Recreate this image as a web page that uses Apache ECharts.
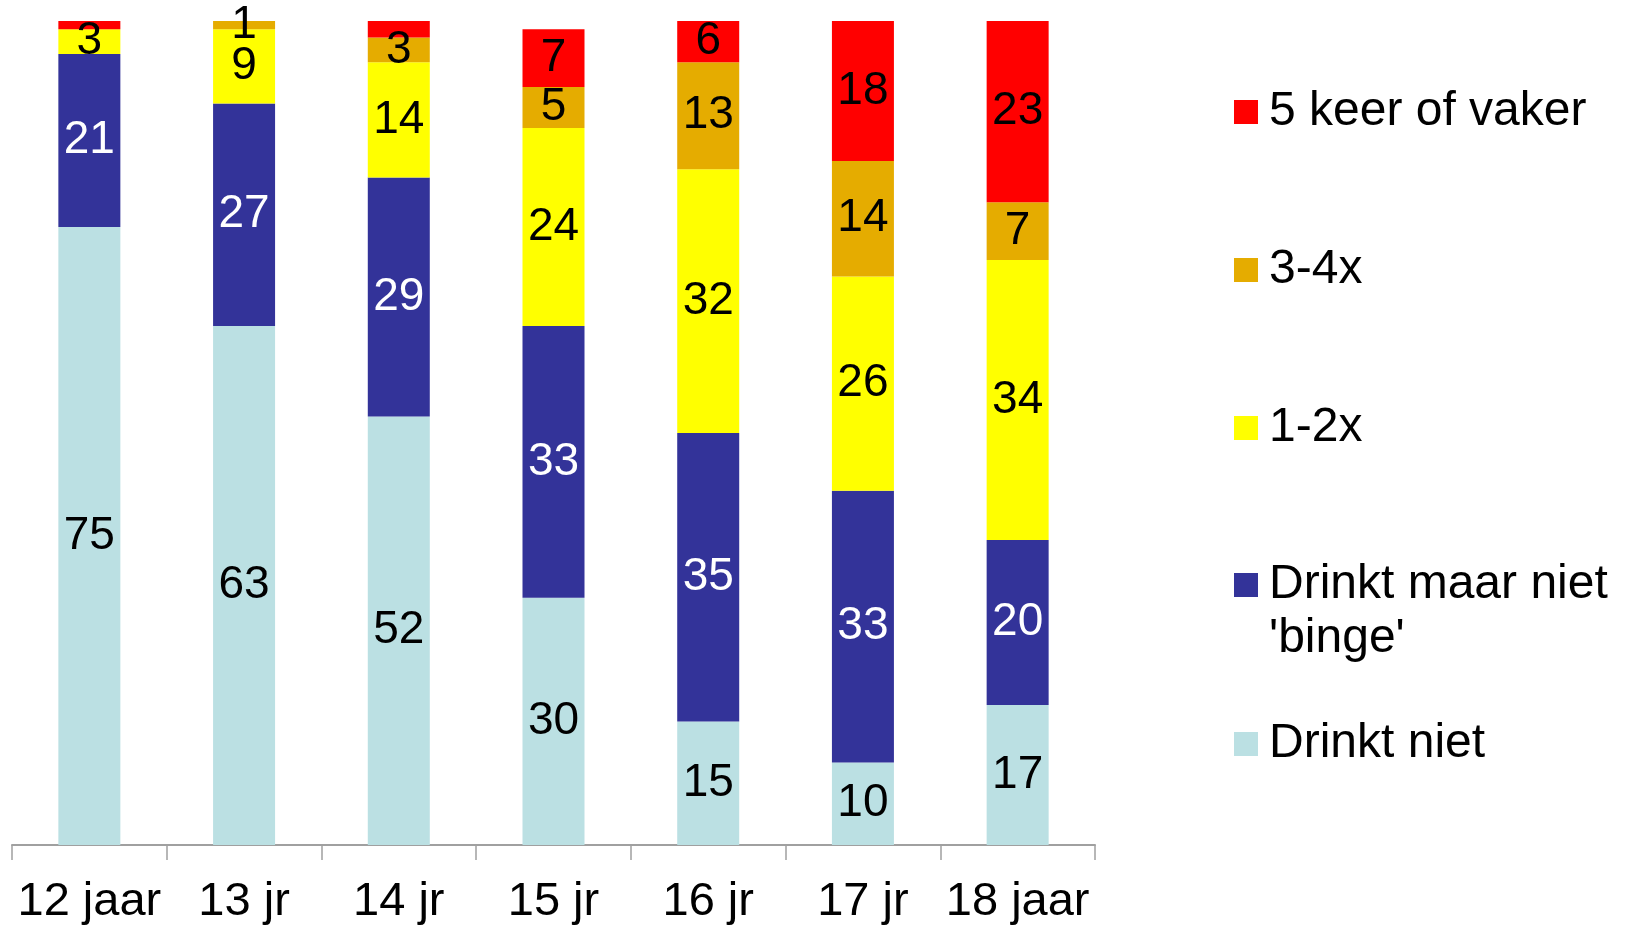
<!DOCTYPE html>
<html>
<head>
<meta charset="utf-8">
<script src="https://cdn.jsdelivr.net/npm/echarts@6/dist/echarts.min.js"></script>
<style>
html,body{margin:0;padding:0;background:#fff;}
#chart{width:1628px;height:926px;}
</style>
</head>
<body>
<div id="chart"></div>
<script>
const categories = ['12 jaar', '13 jr', '14 jr', '15 jr', '16 jr', '17 jr', '18 jaar'];
const drinktNiet = [75, 63, 52, 30, 15, 10, 17];
const drinktMaarNiet = [21, 27, 29, 33, 35, 33, 20];
const keer12 = [3, 9, 14, 24, 32, 26, 34];
const keer34 = [0, 1, 3, 5, 13, 14, 7];
const keer5 = [1, 0.3, 2, 7, 6, 18, 23];
const seriesNames = ['Drinkt niet', "Drinkt maar niet 'binge'", '1-2x', '3-4x', '5 keer of vaker'];
const seriesColors = ['#BBE0E3', '#333399', '#FFFF00', '#E5AC00', '#FF0000'];
const labelColors = ['#000', '#fff', '#000', '#000', '#000'];
const minLabelValue = [0.5, 0.5, 0.5, 0.5, 3];
const seriesValues = [drinktNiet, drinktMaarNiet, keer12, keer34, keer5];

const FONT = 'Liberation Sans, Arial, sans-serif';

const series = seriesValues.map((vals, i) => ({
  name: seriesNames[i],
  type: 'bar',
  stack: 'total',
  barWidth: 62,
  itemStyle: { color: seriesColors[i] },
  label: {
    show: true,
    position: 'inside',
    color: labelColors[i],
    fontFamily: FONT,
    fontSize: 46
  },
  data: vals.map(v => ({ value: v, label: { show: v >= minLabelValue[i] } }))
}));

const legendCenters = [112, 270, 428, 585, 744];
const legendOrder = [4, 3, 2, 1, 0];
const LH = 54;
const legends = legendOrder.map((si, k) => {
  const multi = si === 1;
  return {
    data: [seriesNames[si]],
    orient: 'vertical',
    left: 1234,
    top: legendCenters[k] - (multi ? LH * 1.5 : LH / 2),
    padding: 0,
    icon: 'rect',
    itemWidth: 24,
    itemHeight: 24,
    selectedMode: false,
    formatter: multi ? () => "\nDrinkt maar niet\n'binge'" : '{name}',
    textStyle: { fontFamily: FONT, fontSize: 48, color: '#000', lineHeight: LH, padding: [0, 0, 0, 6] }
  };
});

const chart = echarts.init(document.getElementById('chart'));
chart.setOption({
  animation: false,
  backgroundColor: '#fff',
  legend: legends,
  grid: { left: 12, right: 533, top: 21, bottom: 81, containLabel: false },
  xAxis: {
    type: 'category',
    data: categories,
    axisLine: { lineStyle: { color: '#A0A0A0', width: 2 } },
    axisTick: { show: true, length: 15, lineStyle: { color: '#A0A0A0', width: 1.5 } },
    axisLabel: { fontFamily: FONT, fontSize: 47, color: '#000', margin: 34, interval: 0 }
  },
  yAxis: {
    type: 'value',
    min: 0,
    max: 100,
    show: false,
    splitLine: { show: false }
  },
  series: series
});
</script>
</body>
</html>
